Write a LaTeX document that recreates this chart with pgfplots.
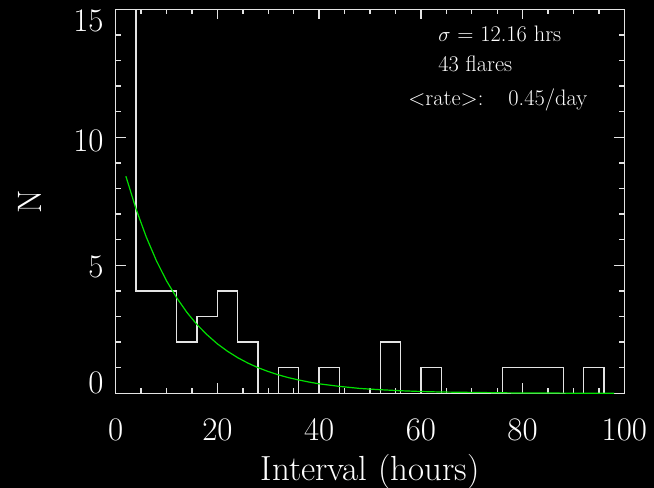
\documentclass[border=0pt]{standalone}
\usepackage{pgfplots}
\pgfplotsset{compat=1.18}
\definecolor{fitgreen}{RGB}{0,225,0}
\definecolor{axgray}{RGB}{228,228,228}

\begin{document}
\begin{tikzpicture}
% black page behind everything
\fill[black] (-115.7bp,-94.7bp) rectangle (538.3bp,393.3bp);
\begin{axis}[
  scale only axis,
  width=508.6bp, height=384bp,
  xmin=0, xmax=100, ymin=0, ymax=15,
  xtick={0,20,...,100}, minor x tick num=3,
  ytick={0,5,10,15}, minor y tick num=4,
  yticklabels={\raisebox{10bp}[\height][\depth]{0},
               \raisebox{-2bp}[\height][\depth]{5},
               \raisebox{-4bp}[\height][\depth]{10},
               \raisebox{-12bp}[\height][\depth]{15}},
  /pgf/number format/assume math mode=true,
  tick align=inside, tick pos=both,
  major tick length=10bp, minor tick length=5bp,
  axis line style={axgray, line width=1.3bp},
  every tick/.style={axgray, line width=1.3bp},
  ticklabel style={text=white, font=\fontsize{33}{36}\selectfont, inner sep=0pt},
  xticklabel style={anchor=center, yshift=-36.2bp},
  yticklabel style={anchor=east, xshift=-12bp},
  xlabel={Interval (hours)},
  ylabel={N},
  every axis x label/.style={at={(rel axis cs:0.5,0)}, anchor=base, yshift=-86.7bp,
    text=white, font=\fontsize{35}{40}\selectfont},
  every axis y label/.style={at={(rel axis cs:0,0.5)}, xshift=-85.7bp, rotate=90, anchor=center,
    text=white, font=\fontsize{34}{40}\selectfont},
]
% histogram of intervals, 4 hour bins
\addplot[const plot, axgray, line width=1.3bp] coordinates {
  (0,15) (4,4) (8,4) (12,2) (16,3) (20,4) (24,2) (28,0) (32,1) (36,0)
  (40,1) (44,0) (48,0) (52,2) (56,0) (60,1) (64,0) (68,0) (72,0)
  (76,1) (80,1) (84,1) (88,0) (92,1) (96,0) (100,0)
};
% exponential fit
\addplot[fitgreen, line width=1.2bp] coordinates {
  (2,8.48) (4,7.20) (6,6.11) (8,5.18) (10,4.39) (12,3.73) (14,3.16)
  (16,2.68) (18,2.28) (20,1.93) (22,1.64) (24,1.39) (26,1.18) (28,1.00)
  (30,0.85) (32,0.72) (34,0.61) (36,0.52) (38,0.44) (40,0.37) (44,0.27)
  (48,0.19) (52,0.14) (56,0.10) (60,0.07) (64,0.05) (68,0.04) (72,0.03)
  (76,0.02) (80,0.01) (86,0.01) (92,0.00) (98,0.00)
};
\node[anchor=base west, inner sep=0pt, text=white, font=\fontsize{22.5}{26}\selectfont]
  at (axis cs:63.4,13.73) {$\sigma$ = 12.16 hrs};
\node[anchor=base west, inner sep=0pt, text=white, font=\fontsize{22.5}{26}\selectfont]
  at (axis cs:63.4,12.56) {43 flares};
\node[anchor=base west, inner sep=0pt, text=white, font=\fontsize{22.5}{26}\selectfont]
  at (axis cs:57.5,11.26) {<rate>:\hspace{25bp}0.45/day};
\end{axis}
\pgfresetboundingbox
\path[use as bounding box] (-115.7bp,-94.7bp) rectangle (538.3bp,393.3bp);
\end{tikzpicture}
\end{document}
